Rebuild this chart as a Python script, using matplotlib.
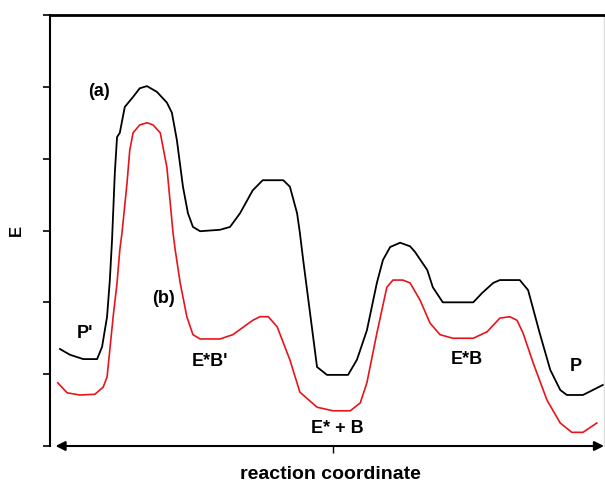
import matplotlib
matplotlib.use('Agg')
import matplotlib.pyplot as plt

# reaction coordinate (arbitrary units) and energies for both profiles
x_a = [1.8, 3.6, 6.0, 8.5, 9.4, 10.3, 10.8, 11.2, 11.7, 12.1, 12.6, 13.5, 15.0, 16.2,
       17.5, 19.3, 21.1, 22.0, 22.9, 24.0, 24.9, 25.8, 27.1, 30.7, 32.5, 34.3, 36.6,
       38.4, 42.1, 43.3, 44.6, 45.1, 45.7, 48.2, 50.0, 53.8, 55.4, 57.2, 59.0, 60.1,
       61.4, 63.2, 65.0, 65.9, 68.1, 69.1, 70.9, 76.4, 78.0, 80.0, 81.2, 84.8, 86.3,
       88.4, 90.3, 92.1, 93.3, 96.2, 98.0, 99.8]
e_a = [1.35, 1.27, 1.21, 1.21, 1.38, 1.80, 2.31, 2.87, 3.80, 4.30, 4.36, 4.72, 4.86, 4.98,
       5.01, 4.93, 4.78, 4.64, 4.26, 3.61, 3.24, 3.05, 2.99, 3.01, 3.05, 3.24, 3.56,
       3.70, 3.70, 3.61, 3.24, 2.97, 2.59, 1.10, 0.99, 0.99, 1.20, 1.61, 2.27, 2.59,
       2.77, 2.83, 2.78, 2.70, 2.45, 2.21, 2.00, 2.00, 2.13, 2.27, 2.31, 2.31, 2.17,
       1.57, 1.06, 0.78, 0.71, 0.71, 0.78, 0.85]

x_b = [1.4, 3.1, 5.4, 8.1, 9.6, 10.3, 10.8, 11.4, 12.1, 12.6, 13.0, 13.9, 14.4, 15.0,
       16.2, 17.5, 18.6, 19.9, 21.1, 22.2, 22.6, 23.5, 24.7, 25.8, 27.1, 30.7, 33.0,
       36.6, 37.9, 39.4, 41.0, 43.3, 45.1, 48.2, 51.1, 54.2, 56.0, 57.2, 59.0, 60.8,
       61.9, 63.7, 65.0, 66.8, 68.6, 70.4, 72.7, 76.4, 78.9, 81.2, 83.0, 84.3, 85.4,
       87.2, 89.7, 92.1, 94.2, 96.2, 98.7]
e_b = [0.88, 0.74, 0.71, 0.72, 0.82, 0.96, 1.34, 1.80, 2.27, 2.73, 2.97, 3.66, 4.12, 4.36,
       4.47, 4.50, 4.47, 4.36, 3.88, 2.97, 2.73, 2.27, 1.80, 1.55, 1.49, 1.49, 1.55,
       1.75, 1.80, 1.80, 1.66, 1.20, 0.75, 0.54, 0.49, 0.49, 0.60, 0.88, 1.57, 2.21,
       2.31, 2.31, 2.27, 2.03, 1.71, 1.55, 1.50, 1.50, 1.59, 1.78, 1.80, 1.75, 1.57,
       1.16, 0.64, 0.32, 0.19, 0.19, 0.32]

# species labels
labels = ['(a)', '(b)', "P'", "E*B'", 'E* + B', 'E*B', 'P']
label_x = [8.8, 20.4, 6.3, 28.9, 51.8, 75.3, 94.9]
label_y = [4.94, 2.05, 1.57, 1.18, 0.24, 1.21, 1.11]

plt.rcParams['font.family'] = ['Liberation Sans', 'DejaVu Sans']

fig = plt.figure(figsize=(6.05, 4.84), dpi=100)
ax = fig.add_axes([50 / 605, 38 / 484, 554 / 605, 431 / 484])

ax.plot(x_a, e_a, color='black', linewidth=1.3, solid_joinstyle='round')
ax.plot(x_b, e_b, color='#e8141c', linewidth=1.2, solid_joinstyle='round')

for t, lx, ly in zip(labels, label_x, label_y):
    ax.text(lx, ly, t, fontsize=13, fontweight='bold', ha='center', va='center')

ax.set_xlim(0, 100)
ax.set_ylim(0, 6)

ax.set_yticks(range(7))
ax.set_yticklabels([])
ax.set_xticks([51.1])
ax.set_xticklabels([])
ax.tick_params(axis='y', direction='out', length=5, width=1.2)
ax.tick_params(axis='x', direction='out', length=5, width=1, pad=0)

ax.spines['left'].set_linewidth(1.5)
ax.spines['top'].set_linewidth(2)
ax.spines['right'].set_color('#dddddd')
ax.spines['right'].set_linewidth(1)
ax.spines['bottom'].set_visible(False)

# double-headed reaction coordinate arrow
ax.annotate('', xy=(1.0, 0), xytext=(0.01, 0), xycoords='axes fraction',
            arrowprops=dict(arrowstyle='<|-|>', color='black', lw=1.5,
                            mutation_scale=14, shrinkA=0, shrinkB=0),
            annotation_clip=False)

ax.set_xlabel('reaction coordinate', fontsize=14, fontweight='bold')
ax.xaxis.set_label_coords(0.506, -0.066)
ax.xaxis.label.set_va('center')
ax.set_ylabel('E', fontsize=12, fontweight='bold')
ax.yaxis.set_label_coords(-0.06, 0.5)
ax.yaxis.label.set_va('center')

fig.savefig('out.png', dpi=100)
